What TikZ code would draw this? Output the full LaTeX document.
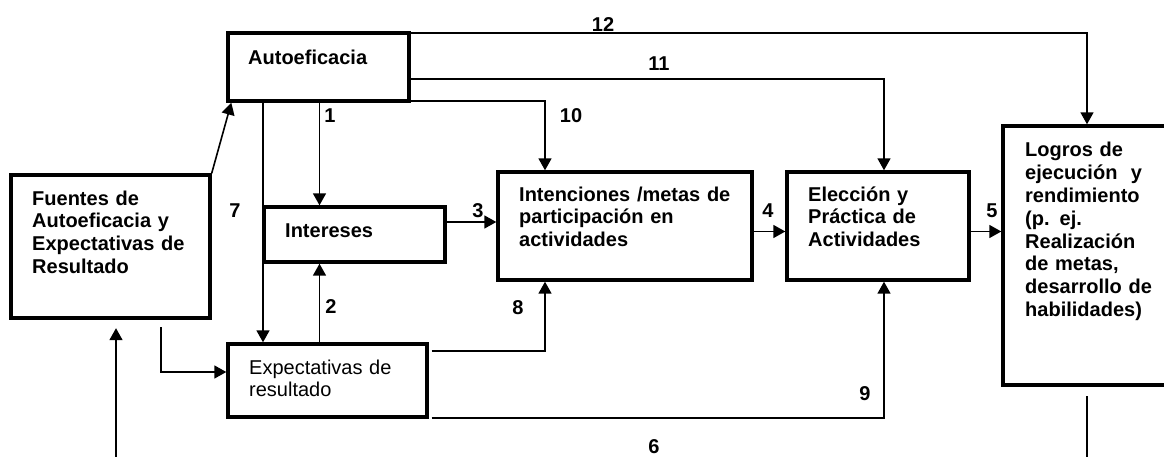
\documentclass[tikz,border=0pt]{standalone}
\usepackage{fontspec}
\setmainfont{Liberation Sans}
\usetikzlibrary{arrows.meta}
\tikzset{
  box/.style={draw, line width=3.4pt, inner sep=0pt},
  txt/.style={anchor=base west, inner sep=0pt, align=left, text width=#1,
    font=\fontsize{20}{22.8}\selectfont\bfseries},
  conn/.style={line width=1.6pt, -{Triangle[length=12pt,width=13pt]}},
  num/.style={anchor=base, inner sep=0pt, font=\fontsize{20}{24}\selectfont\bfseries}
}
\begin{document}
\begin{tikzpicture}[x=1pt,y=-1pt]
\useasboundingbox (0,0) rectangle (1164,457);
\clip (0,0) rectangle (1164,457);
\fill[white] (0,0) rectangle (1164,457);

% boxes
\node[box, minimum width=181, minimum height=68]  (auto)    at (318.5,67)    {};
\node[box, minimum width=199, minimum height=143] (fuentes) at (110.5,246.5) {};
\node[box, minimum width=181, minimum height=55]  (inter)   at (354.5,234.5) {};
\node[box, minimum width=254, minimum height=108] (inten)   at (625,226)     {};
\node[box, minimum width=182, minimum height=108] (elec)    at (878,226)     {};
\node[box, minimum width=200, minimum height=259] (logros)  at (1103,255.5)  {};
\node[box, minimum width=199, minimum height=73]  (expect)  at (327.5,380.5) {};

% texts
\node[txt=150] (tauto)    at (248,65)  {Autoeficacia};
\node[txt=180] (tfuentes) at (32,205)  {Fuentes de\\Autoeficacia y\\Expectativas de\\Resultado};
\node[txt=150] (tinter)   at (285,237) {Intereses};
\node[txt=225] (tinten)   at (519,201) {Intenciones /metas de\\participación en\\actividades};
\node[txt=155] (telec)    at (808,201) {Elección y\\Práctica de\\Actividades};
\node[txt=135] (tlogros)  at (1025,157) {Logros de\\ejecución\ \ y\\rendimiento\\(p. ej.\\Realización\\de metas,\\desarrollo de\\habilidades)};
\node[txt=175, font=\fontsize{20}{22.8}\selectfont\mdseries] (texpect) at (249,374) {Expectativas de\\resultado};

% helper coordinates
\coordinate (k1)  at (319.5,0);
\coordinate (k7)  at (263,0);
\coordinate (k10) at (545,0);
\coordinate (k11) at (884,0);
\coordinate (k12) at (1087,0);
\coordinate (k6)  at (116,0);
\coordinate (kf)  at (161,0);
\coordinate (y3)  at (0,222);
\coordinate (y45) at (0,231.5);
\coordinate (y11) at (0,79);
\coordinate (yfe) at (0,372);
\coordinate (y6)  at (0,475);
\coordinate (s8)  at (431.5,351);
\coordinate (s9)  at (431.5,418);

% connectors
\draw[conn] (fuentes.north east) -- ([xshift=5]auto.south west);
\draw[conn] (auto.south -| k1) -- (inter.north -| k1);
\draw[conn] (auto.south -| k7) -- (expect.north -| k7);
\draw[conn] (expect.north -| k1) -- (inter.south -| k1);
\draw[conn] (inter.east |- y3) -- (inten.west |- y3);
\draw[conn] (inten.east |- y45) -- (elec.west |- y45);
\draw[conn] (elec.east |- y45) -- (logros.west |- y45);
\draw[conn] ([yshift=1.7]auto.south east) -| (inten.north -| k10);
\draw[conn] (auto.east |- y11) -| (elec.north -| k11);
\draw[conn] ([yshift=-1.7]auto.north east) -| (logros.north -| k12);
\draw[conn] (s8) -| (inten.south -| k10);
\draw[conn] (s9) -| (elec.south -| k11);
\draw[conn, shorten <=7.5] (fuentes.south -| kf) |- (expect.west |- yfe);
\draw[conn, shorten <=9.5, shorten >=8.5] (logros.south -| k12) |- (y6 -| k6) -- (fuentes.south -| k6);

% numbers
\node[num] (n12) at (603,32)  {12};
\node[num] (n11) at (659,71)  {11};
\node[num] (n10) at (571,123) {10};
\node[num] (n1)  at (330,123) {1};
\node[num] (n7)  at (235,218) {7};
\node[num] (n3)  at (478,218) {3};
\node[num] (n4)  at (768,218) {4};
\node[num] (n5)  at (992,218) {5};
\node[num] (n2)  at (331,313) {2};
\node[num] (n8)  at (518,314) {8};
\node[num] (n9)  at (865,400) {9};
\node[num] (n6)  at (654,453) {6};
\end{tikzpicture}
\end{document}
